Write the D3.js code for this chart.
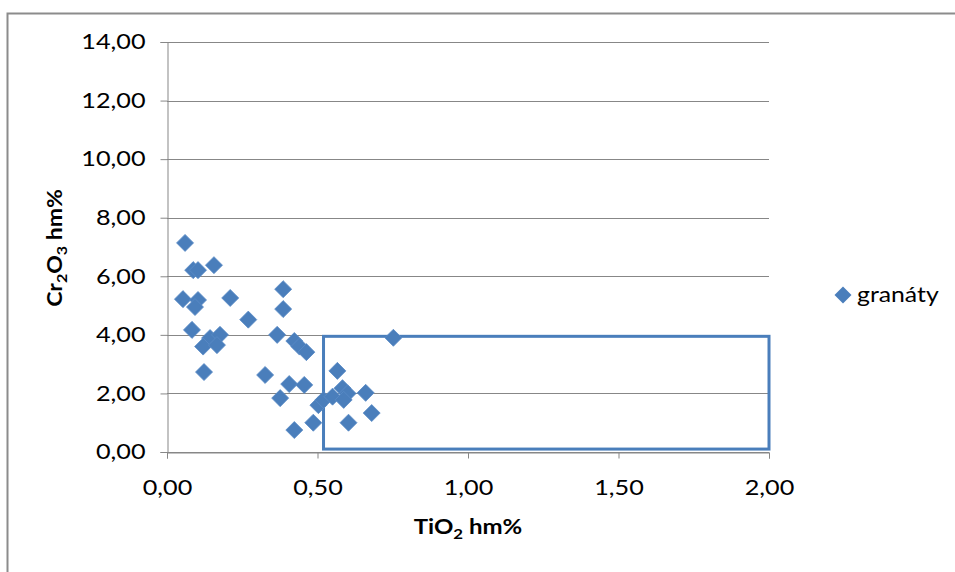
<!DOCTYPE html>
<html><head><meta charset="utf-8">
<script src="https://cdn.jsdelivr.net/npm/d3@7"></script>
<style>body{margin:0;background:#fff}svg{display:block}text{font-family:Lato,"Open Sans",sans-serif;fill:#000}</style>
</head><body>
<script>
const tiO2 = [0.06,0.087,0.103,0.156,0.053,0.103,0.093,0.21,0.386,0.386,0.27,0.083,0.143,0.176,0.12,0.166,0.123,0.366,0.423,0.44,0.463,0.326,0.406,0.456,0.376,0.423,0.486,0.503,0.52,0.55,0.566,0.583,0.6,0.587,0.66,0.68,0.603,0.752];
const cr2O3 = [7.14,6.21,6.21,6.38,5.22,5.19,4.95,5.26,5.56,4.88,4.52,4.17,3.89,4.0,3.6,3.65,2.73,4.0,3.79,3.6,3.41,2.63,2.32,2.29,1.84,0.75,1.0,1.6,1.78,1.89,2.77,2.18,2.0,1.78,2.02,1.33,1.0,3.9];
const seriesName = "granáty";
const xTicks = [0,0.5,1,1.5,2];
const yTicks = [0,2,4,6,8,10,12,14];
const box = {x0:0.52, x1:2.0, y0:0.1, y1:3.95};

const W=955,H=572;
const svg=d3.select("body").append("svg").attr("width",W).attr("height",H);
svg.append("rect").attr("x",7.5).attr("y",13.5).attr("width",960).attr("height",600).attr("fill","none").attr("stroke","#8c8c8c").attr("stroke-width",2);

const x=d3.scaleLinear().domain([0,2]).range([167,769]);
const y=d3.scaleLinear().domain([0,14]).range([452,42]);
const fmt=d=>d3.format(".2f")(d).replace(".",",");
function stretch(sel,k){sel.each(function(){const w=this.getComputedTextLength();d3.select(this).attr("textLength",w*k).attr("lengthAdjust","spacingAndGlyphs");});}

svg.append("g").selectAll("line").data(yTicks).join("line")
  .attr("x1",x(0)).attr("x2",x(2)).attr("y1",d=>Math.round(y(d))+0.5).attr("y2",d=>Math.round(y(d))+0.5)
  .attr("stroke","#878787").attr("stroke-width",1);

const yAxis=svg.append("g").attr("transform",`translate(${x(0)+0.5},0)`)
  .call(d3.axisLeft(y).tickValues(yTicks).tickFormat(fmt).tickSize(7).tickPadding(15));
const xAxis=svg.append("g").attr("transform",`translate(0,${y(0)+0.5})`)
  .call(d3.axisBottom(x).tickValues(xTicks).tickFormat(fmt).tickSize(6).tickPadding(22));
[yAxis,xAxis].forEach(a=>{
  a.select(".domain").attr("stroke","#878787");
  a.selectAll(".tick line").attr("stroke","#878787");
  a.selectAll("text").style("font-size","21px").style("font-family","Lato").call(stretch,1.2);
});

svg.append("rect").attr("x",x(box.x0)).attr("y",y(box.y1)).attr("width",x(box.x1)-x(box.x0)).attr("height",y(box.y0)-y(box.y1))
  .attr("fill","none").attr("stroke","#4a7ebb").attr("stroke-width",3);

const pts=tiO2.map((v,i)=>[v,cr2O3[i]]);
const diamond=d3.symbol().type(d3.symbolDiamond2).size(185);
svg.append("g").selectAll("path").data(pts).join("path")
  .attr("d",diamond).attr("transform",d=>`translate(${x(d[0])},${y(d[1])})`)
  .attr("fill","#4a7ebb").attr("stroke","#5b8cc6").attr("stroke-width",0.8);

const xt=svg.append("text").attr("x",468).attr("y",534).attr("text-anchor","middle").style("font-size","20px").style("font-weight","bold");
xt.append("tspan").text("TiO");
xt.append("tspan").attr("dy",5).style("font-size","14px").text("2");
xt.append("tspan").attr("dy",-5).text(" hm%");
xt.call(stretch,1.2);
const yt=svg.append("text").attr("transform","translate(62,248) rotate(-90)").attr("text-anchor","middle").style("font-size","20px").style("font-weight","bold");
yt.append("tspan").text("Cr");
yt.append("tspan").attr("dy",5).style("font-size","14px").text("2");
yt.append("tspan").attr("dy",-5).text("O");
yt.append("tspan").attr("dy",5).style("font-size","14px").text("3");
yt.append("tspan").attr("dy",-5).text(" hm%");
yt.call(stretch,1.15);

svg.append("path").attr("d",diamond).attr("transform","translate(843,295)").attr("fill","#4a7ebb");
svg.append("text").attr("x",857).attr("y",295).attr("dy","0.35em").style("font-size","21px").text(seriesName).call(stretch,1.18);
</script>
</body></html>
